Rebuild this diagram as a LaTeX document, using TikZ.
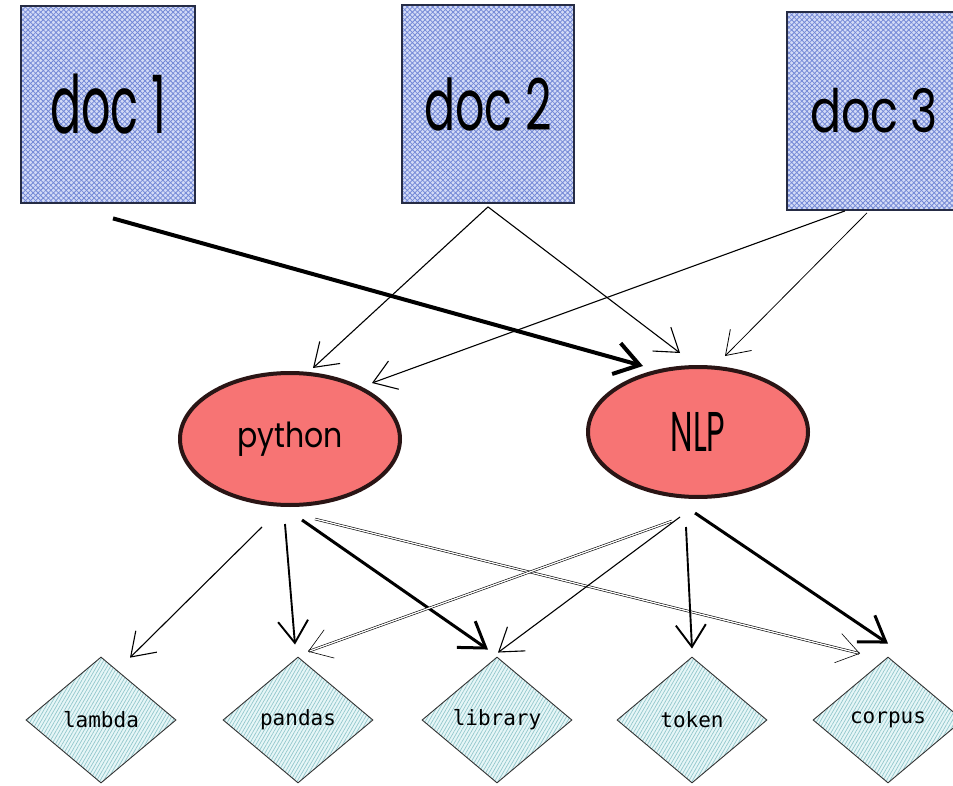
\documentclass[tikz,border=0pt]{standalone}
\usepackage{fontspec}
\setmainfont{Poppins}
\newfontfamily\codefont{DejaVu Sans Mono}
\usetikzlibrary{shapes.geometric,arrows.meta,patterns.meta}

\definecolor{docbase}{HTML}{D3DBF7}
\definecolor{dochatch}{HTML}{7489D6}
\definecolor{docline}{HTML}{262C45}
\definecolor{topicfill}{HTML}{F77474}
\definecolor{topicline}{HTML}{2A1515}
\definecolor{termbase}{HTML}{E6F6F7}
\definecolor{termhatch}{HTML}{93C7CC}
\definecolor{termline}{HTML}{333333}

\begin{document}
\begin{tikzpicture}[x=1pt,y=-1pt,
  docbox/.style={rectangle, draw=docline, line width=1.8pt, inner sep=0pt,
    preaction={fill=docbase},
    preaction={pattern={Lines[angle=45,distance=3.6pt,line width=0.8pt]}, pattern color=dochatch},
    pattern={Lines[angle=-45,distance=3.6pt,line width=0.8pt]}, pattern color=dochatch},
  docfont/.style={font=\fontsize{46}{46}\selectfont},
  topic/.style={ellipse, draw=topicline, line width=4pt, fill=topicfill, inner sep=0pt,
    font=\fontsize{30}{30}\selectfont},
  term/.style={diamond, draw=termline, line width=0.9pt, inner sep=0pt,
    minimum width=150pt, minimum height=126pt,
    preaction={fill=termbase},
    pattern={Lines[angle=60,distance=3pt,line width=0.7pt]}, pattern color=termhatch,
    font=\codefont\fontsize{21}{21}\selectfont},
  link/.style={draw, line width=1.1pt, -{Straight Barb[length=22pt,width=30pt]}},
  faint/.style={link, line width=0.8pt},
  mid/.style={link, line width=1.9pt},
  heavy/.style={draw, line width=3pt, -{Straight Barb[length=24pt,width=32pt]}},
  heaviest/.style={heavy, line width=4pt},
  twin/.style={draw, double, double distance=1.3pt, line width=0.6pt,
    -{Straight Barb[length=22pt,width=30pt]}},
]
\clip (0,0) rectangle (953,786);
\fill[white] (0,0) rectangle (953,786);

% source documents
\node[docbox, docfont, minimum width=174pt, minimum height=197pt] (doc1) at (108,104.5)
  {\scalebox{1}[1.75]{doc 1}\hspace{14pt}};
\node[docbox, docfont, minimum width=172pt, minimum height=198pt] (doc2) at (488,104)
  {\scalebox{1}[1.55]{doc 2}\hspace{8pt}};
\node[docbox, docfont, minimum width=174pt, minimum height=198pt] (doc3) at (874,111)
  {\scalebox{1}[1.3]{doc 3}\hspace{10pt}};

% topics
\node[topic, minimum width=220pt, minimum height=132pt] (python) at (290,439)
  {\scalebox{1}[1.15]{python}};
\node[topic, minimum width=220pt, minimum height=130pt, font=\fontsize{32}{32}\selectfont]
  (nlp) at (698,432) {\scalebox{1}[1.75]{NLP}};

% terms
\node[term] (lambda)  at (101,720) {lambda};
\node[term] (pandas)  at (298,720) {pandas};
\node[term] (library) at (497,720) {library};
\node[term] (token)   at (692,720) {token};
\node[term] (corpus)  at (888,720) {corpus};

% documents -> topics
\draw[heaviest] ([shift={(5,15)}]doc1.south) -- ([shift={(-55,-66)}]nlp.center);
\draw[link] ([shift={(0,3)}]doc2.south) -- ([shift={(23,-71)}]python.center);
\draw[link] ([shift={(0,3)}]doc2.south) -- ([shift={(-18,-79)}]nlp.center);
\draw[link] ([shift={(-29,0)}]doc3.south) -- ([shift={(82,-56)}]python.center);
\draw[faint] ([shift={(-7,2)}]doc3.south) -- ([shift={(27,-76)}]nlp.center);

% python -> terms
\draw[link] ([shift={(-28,20)}]python.south) -- ([shift={(29,1)}]lambda.north);
\draw[mid] ([shift={(-5,17)}]python.south) -- ([shift={(-3,-12)}]pandas.north);
\draw[heavy] ([shift={(12,13)}]python.south) -- ([shift={(-9,-7)}]library.north);
\draw[twin] ([shift={(25,12)}]python.south) -- ([shift={(-28,-3)}]corpus.north);

% NLP -> terms
\draw[twin] ([shift={(-26,22)}]nlp.south) -- ([shift={(10,-5)}]pandas.north);
\draw[link] ([shift={(-18,18)}]nlp.south) -- ([shift={(1,-4)}]library.north);
\draw[mid] ([shift={(-12,28)}]nlp.south) -- ([shift={(0,-8)}]token.north);
\draw[heavy] ([shift={(-3,14)}]nlp.south) -- ([shift={(0,-13)}]corpus.north);
\end{tikzpicture}
\end{document}
